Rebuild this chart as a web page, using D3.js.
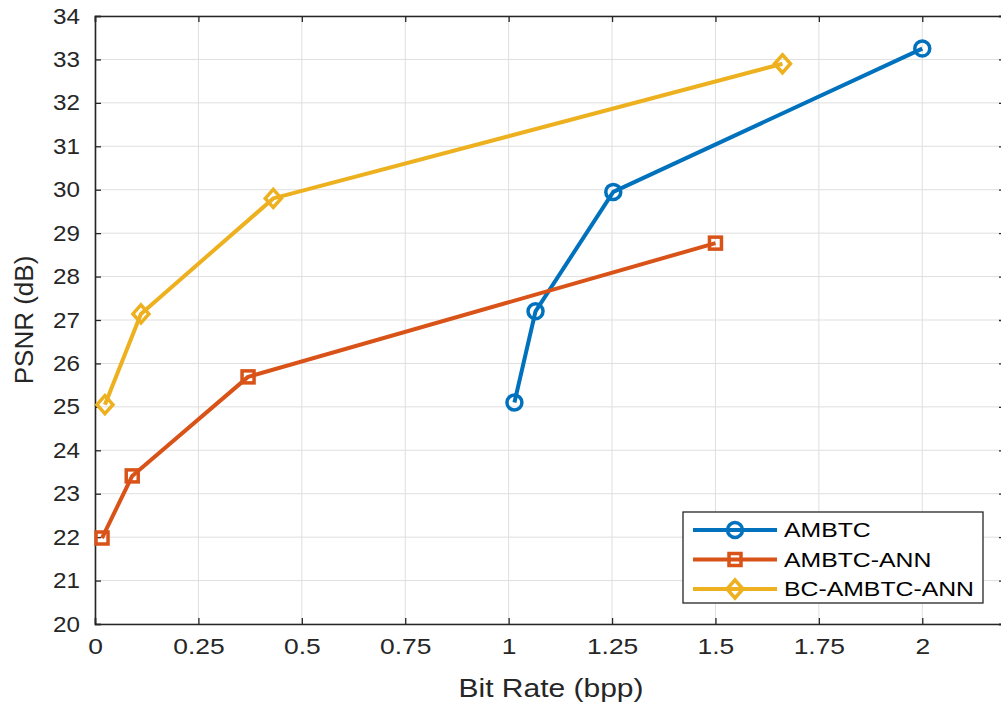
<!DOCTYPE html>
<html>
<head>
<meta charset="utf-8">
<script src="https://cdn.jsdelivr.net/npm/d3@7"></script>
<style>
  body { margin: 0; background: #fff; }
  svg { font-family: "Liberation Sans", Arial, sans-serif; }
</style>
</head>
<body>
<div id="chart"></div>
<script>
const width = 1001;
const height = 707;

const seriesNames = ["AMBTC", "AMBTC-ANN", "BC-AMBTC-ANN"];
const colors = ["#0072BD", "#D95319", "#EDB120"];
const markers = ["circle", "square", "diamond"];

const ambtcX = [1.014, 1.065, 1.253, 2.0];
const ambtcY = [25.1, 27.2, 29.95, 33.25];
const annX = [0.017, 0.09, 0.37, 1.5];
const annY = [21.98, 23.41, 25.69, 28.77];
const bcX = [0.024, 0.111, 0.431, 1.662];
const bcY = [25.05, 27.14, 29.8, 32.9];

const xTicks = [0, 0.25, 0.5, 0.75, 1, 1.25, 1.5, 1.75, 2];
const yTicks = d3.range(20, 35, 1);

const series = [
  { name: seriesNames[0], xs: ambtcX, ys: ambtcY },
  { name: seriesNames[1], xs: annX, ys: annY },
  { name: seriesNames[2], xs: bcX, ys: bcY }
];

const margin = { left: 95, top: 16, right: -4, bottom: 83 };
const stretch = 1.2; // the original figure text is a bit wide

const x = d3.scaleLinear().domain([0, 2.2]).range([margin.left, width - margin.right]);
const y = d3.scaleLinear().domain([20, 34]).range([height - margin.bottom, margin.top]);

const svg = d3.select("#chart")
    .append("svg")
    .attr("width", width)
    .attr("height", height);

// grid
svg.append("g")
    .selectAll("line")
    .data(xTicks)
    .join("line")
    .attr("x1", d => x(d)).attr("x2", d => x(d))
    .attr("y1", y(20)).attr("y2", y(34))
    .attr("stroke", "#dfdfdf").attr("stroke-width", 1);

svg.append("g")
    .selectAll("line")
    .data(yTicks)
    .join("line")
    .attr("x1", x(0)).attr("x2", x(2.2))
    .attr("y1", d => y(d)).attr("y2", d => y(d))
    .attr("stroke", "#dfdfdf").attr("stroke-width", 1);

// axes
const tickLen = 6;
const xAxis = d3.axisBottom(x).tickValues(xTicks).tickSize(-tickLen).tickPadding(14)
    .tickFormat(d => String(d));
const yAxis = d3.axisLeft(y).tickValues(yTicks).tickSize(-tickLen).tickPadding(14)
    .tickFormat(d3.format("d"));

const gx = svg.append("g").attr("transform", `translate(0,${y(20)})`).call(xAxis);
const gy = svg.append("g").attr("transform", `translate(${x(0)},0)`).call(yAxis);
const gxTop = svg.append("g").attr("transform", `translate(0,${y(34)})`)
    .call(d3.axisTop(x).tickValues(xTicks).tickSize(-tickLen).tickFormat(""));
const gyRight = svg.append("g").attr("transform", `translate(${x(2.2)},0)`)
    .call(d3.axisRight(y).tickValues(yTicks).tickSize(-tickLen).tickFormat(""));

[gx, gy, gxTop, gyRight].forEach(g => {
  g.select(".domain").attr("stroke", "#262626").attr("stroke-width", 1.6);
  g.selectAll(".tick line").attr("stroke", "#262626").attr("stroke-width", 1.3);
  g.selectAll(".tick text").attr("fill", "#262626").style("font-size", "22px");
});

gx.selectAll(".tick text").attr("transform", `scale(${stretch},1)`);
gy.selectAll(".tick text")
    .attr("x", 0)
    .attr("transform", `translate(-15,0) scale(1.1,1)`);

// axis labels
svg.append("text")
    .attr("transform", `translate(551,697) scale(${stretch},1)`)
    .attr("text-anchor", "middle")
    .attr("fill", "#262626")
    .style("font-size", "25px")
    .text("Bit Rate (bpp)");

svg.append("text")
    .attr("transform", `translate(33,${(y(20) + y(34)) / 2}) rotate(-90)`)
    .attr("text-anchor", "middle")
    .attr("fill", "#262626")
    .style("font-size", "26px")
    .text("PSNR (dB)");

function drawMarker(g, type, color, cx, cy) {
  if (type === "circle") {
    g.append("circle").attr("cx", cx).attr("cy", cy).attr("r", 7.5)
      .attr("fill", "none").attr("stroke", color).attr("stroke-width", 3.5);
  } else if (type === "square") {
    g.append("rect").attr("x", cx - 6).attr("y", cy - 6).attr("width", 12).attr("height", 12)
      .attr("fill", "none").attr("stroke", color).attr("stroke-width", 3.5);
  } else {
    g.append("path")
      .attr("d", `M${cx},${cy - 9}L${cx + 8},${cy}L${cx},${cy + 9}L${cx - 8},${cy}Z`)
      .attr("fill", "none").attr("stroke", color).attr("stroke-width", 3.5);
  }
}

const line = d3.line().x(d => x(d[0])).y(d => y(d[1]));

series.forEach((s, i) => {
  const pts = s.xs.map((v, j) => [v, s.ys[j]]);
  const g = svg.append("g");
  g.append("path")
    .datum(pts)
    .attr("d", line)
    .attr("fill", "none")
    .attr("stroke", colors[i])
    .attr("stroke-width", 4)
    .attr("stroke-linejoin", "round");
  pts.forEach(p => drawMarker(g, markers[i], colors[i], x(p[0]), y(p[1])));
});

// legend
const legend = svg.append("g").attr("transform", "translate(683,512)");
legend.append("rect")
    .attr("width", 300).attr("height", 91)
    .attr("fill", "#fff").attr("stroke", "#262626").attr("stroke-width", 1.3);

seriesNames.forEach((name, i) => {
  const ly = 18 + i * 29.5;
  legend.append("line")
    .attr("x1", 10).attr("x2", 94).attr("y1", ly).attr("y2", ly)
    .attr("stroke", colors[i]).attr("stroke-width", 4);
  drawMarker(legend, markers[i], colors[i], 52, ly);
  legend.append("text")
    .attr("transform", `translate(101,${ly}) scale(1.24,1)`)
    .attr("dy", "0.36em")
    .attr("fill", "#000")
    .style("font-size", "20px")
    .text(name);
});
</script>
</body>
</html>
